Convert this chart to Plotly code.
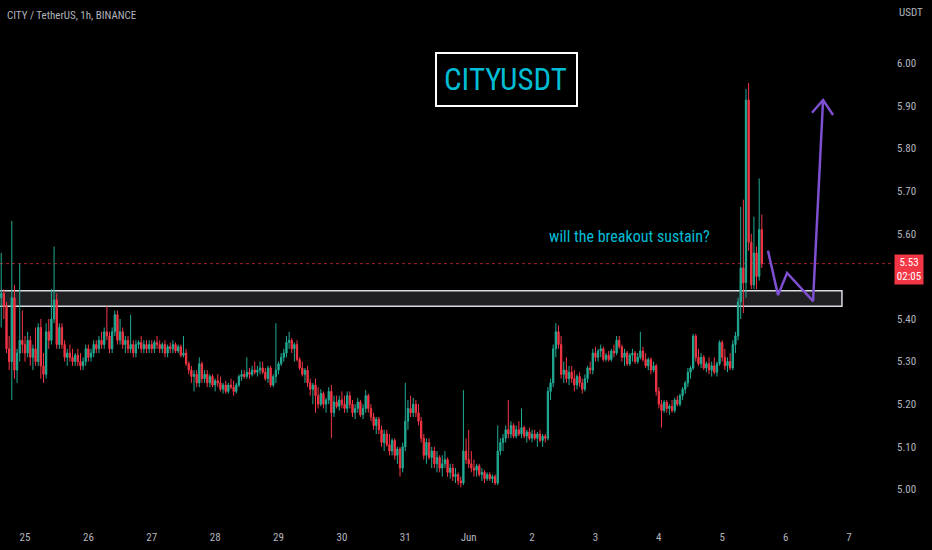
import pandas as pd
import plotly.graph_objects as go

# CITY/USDT 1h candles, May 24 15:00 -> Jun 5 15:00 (one line per day)
start = "2022-05-24 15:00"

open_ = [
    5.45, 5.46, 5.43, 5.33, 5.30, 5.45, 5.28, 5.32, 5.35,
    5.34, 5.32, 5.35, 5.31, 5.33, 5.30, 5.38, 5.29, 5.27, 5.37, 5.35, 5.40, 5.445, 5.34, 5.38, 5.34, 5.31, 5.32, 5.31, 5.30, 5.315, 5.30, 5.29, 5.30,
    5.33, 5.31, 5.32, 5.34, 5.33, 5.35, 5.34, 5.37, 5.36, 5.33, 5.37, 5.41, 5.35, 5.37, 5.34, 5.35, 5.33, 5.34, 5.32, 5.34, 5.345, 5.33, 5.34, 5.33,
    5.34, 5.33, 5.345, 5.34, 5.33, 5.34, 5.32, 5.335, 5.33, 5.34, 5.325, 5.335, 5.315, 5.32, 5.295, 5.28, 5.265, 5.27, 5.25, 5.295, 5.26, 5.27, 5.25, 5.265,
    5.245, 5.255, 5.25, 5.235, 5.245, 5.23, 5.245, 5.24, 5.23, 5.245, 5.265, 5.27, 5.265, 5.275, 5.27, 5.28, 5.275, 5.28, 5.285, 5.275, 5.26, 5.285, 5.245, 5.265,
    5.28, 5.295, 5.31, 5.32, 5.345, 5.35, 5.33, 5.34, 5.305, 5.285, 5.27, 5.28, 5.25, 5.235, 5.245, 5.22, 5.20, 5.225, 5.20, 5.21, 5.23, 5.18, 5.205, 5.195,
    5.21, 5.20, 5.19, 5.22, 5.20, 5.18, 5.19, 5.205, 5.175, 5.19, 5.22, 5.19, 5.17, 5.15, 5.165, 5.14, 5.11, 5.13, 5.105, 5.09, 5.115, 5.08, 5.095, 5.05,
    5.10, 5.16, 5.19, 5.18, 5.20, 5.18, 5.16, 5.12, 5.08, 5.11, 5.075, 5.09, 5.06, 5.075, 5.05, 5.06, 5.07, 5.04, 5.05, 5.03, 5.035, 5.02, 5.015, 5.09,
    5.07, 5.06, 5.05, 5.045, 5.055, 5.035, 5.04, 5.025, 5.035, 5.025, 5.03, 5.015, 5.09, 5.11, 5.12, 5.14, 5.13, 5.15, 5.125, 5.14, 5.13, 5.145, 5.125, 5.135,
    5.12, 5.13, 5.12, 5.13, 5.115, 5.125, 5.12, 5.23, 5.25, 5.33, 5.37, 5.34, 5.27, 5.28, 5.26, 5.275, 5.26, 5.245, 5.265, 5.25, 5.235, 5.26, 5.285, 5.28,
    5.32, 5.31, 5.325, 5.33, 5.305, 5.315, 5.305, 5.325, 5.32, 5.35, 5.335, 5.31, 5.32, 5.295, 5.315, 5.32, 5.30, 5.31, 5.325, 5.305, 5.29, 5.305, 5.28, 5.29,
    5.23, 5.20, 5.185, 5.205, 5.19, 5.195, 5.185, 5.21, 5.20, 5.22, 5.235, 5.25, 5.275, 5.285, 5.36, 5.31, 5.295, 5.31, 5.285, 5.295, 5.28, 5.29, 5.275, 5.295,
    5.345, 5.31, 5.29, 5.30, 5.285, 5.34, 5.36, 5.44, 5.52, 5.485, 5.914, 5.58, 5.48, 5.555, 5.50, 5.61,
]
high = [
    5.555, 5.47, 5.44, 5.36, 5.63, 5.48, 5.33, 5.53, 5.42,
    5.36, 5.37, 5.36, 5.34, 5.38, 5.39, 5.40, 5.32, 5.39, 5.40, 5.47, 5.57, 5.46, 5.39, 5.39, 5.35, 5.33, 5.34, 5.33, 5.32, 5.33, 5.32, 5.31, 5.34,
    5.34, 5.33, 5.35, 5.35, 5.36, 5.37, 5.38, 5.43, 5.37, 5.38, 5.42, 5.42, 5.40, 5.38, 5.36, 5.36, 5.41, 5.35, 5.35, 5.35, 5.36, 5.35, 5.35, 5.35,
    5.35, 5.35, 5.36, 5.35, 5.345, 5.35, 5.34, 5.345, 5.35, 5.345, 5.34, 5.34, 5.36, 5.33, 5.30, 5.29, 5.28, 5.28, 5.31, 5.30, 5.28, 5.28, 5.27, 5.27,
    5.26, 5.27, 5.265, 5.25, 5.255, 5.25, 5.26, 5.255, 5.25, 5.27, 5.28, 5.28, 5.31, 5.285, 5.29, 5.30, 5.29, 5.30, 5.30, 5.285, 5.29, 5.29, 5.27, 5.39,
    5.30, 5.32, 5.33, 5.36, 5.37, 5.355, 5.345, 5.35, 5.31, 5.30, 5.285, 5.29, 5.26, 5.25, 5.26, 5.24, 5.235, 5.23, 5.215, 5.24, 5.245, 5.22, 5.22, 5.22,
    5.23, 5.22, 5.23, 5.23, 5.21, 5.20, 5.215, 5.21, 5.20, 5.233, 5.225, 5.20, 5.18, 5.17, 5.17, 5.15, 5.14, 5.14, 5.13, 5.12, 5.12, 5.10, 5.10, 5.11,
    5.25, 5.21, 5.22, 5.215, 5.21, 5.20, 5.17, 5.13, 5.12, 5.12, 5.10, 5.10, 5.09, 5.08, 5.08, 5.09, 5.075, 5.06, 5.06, 5.05, 5.04, 5.03, 5.233, 5.12,
    5.14, 5.09, 5.07, 5.06, 5.06, 5.05, 5.045, 5.04, 5.04, 5.035, 5.035, 5.15, 5.12, 5.13, 5.15, 5.21, 5.16, 5.155, 5.15, 5.16, 5.19, 5.15, 5.14, 5.145,
    5.14, 5.14, 5.135, 5.14, 5.13, 5.13, 5.24, 5.26, 5.34, 5.39, 5.385, 5.36, 5.30, 5.31, 5.29, 5.29, 5.28, 5.27, 5.275, 5.26, 5.27, 5.29, 5.30, 5.33,
    5.335, 5.33, 5.34, 5.335, 5.32, 5.325, 5.33, 5.34, 5.36, 5.36, 5.34, 5.33, 5.325, 5.32, 5.33, 5.325, 5.32, 5.37, 5.335, 5.32, 5.31, 5.31, 5.30, 5.295,
    5.24, 5.21, 5.21, 5.21, 5.20, 5.21, 5.215, 5.22, 5.225, 5.24, 5.255, 5.285, 5.29, 5.365, 5.365, 5.33, 5.32, 5.315, 5.30, 5.31, 5.30, 5.31, 5.30, 5.35,
    5.35, 5.33, 5.31, 5.32, 5.35, 5.37, 5.45, 5.663, 5.68, 5.94, 5.954, 5.60, 5.64, 5.57, 5.73, 5.645,
]
low = [
    5.38, 5.40, 5.32, 5.28, 5.21, 5.26, 5.25, 5.30, 5.32,
    5.30, 5.31, 5.29, 5.28, 5.29, 5.29, 5.26, 5.25, 5.26, 5.33, 5.34, 5.39, 5.33, 5.33, 5.33, 5.30, 5.29, 5.30, 5.29, 5.29, 5.29, 5.28, 5.28, 5.29,
    5.30, 5.30, 5.31, 5.32, 5.32, 5.33, 5.33, 5.35, 5.32, 5.32, 5.36, 5.34, 5.34, 5.33, 5.32, 5.32, 5.32, 5.31, 5.31, 5.33, 5.32, 5.32, 5.32, 5.32,
    5.32, 5.32, 5.33, 5.32, 5.32, 5.31, 5.31, 5.32, 5.32, 5.32, 5.32, 5.31, 5.31, 5.29, 5.27, 5.25, 5.23, 5.24, 5.24, 5.25, 5.25, 5.24, 5.24, 5.24,
    5.23, 5.24, 5.23, 5.225, 5.225, 5.225, 5.235, 5.22, 5.225, 5.24, 5.255, 5.26, 5.26, 5.26, 5.265, 5.27, 5.265, 5.27, 5.27, 5.255, 5.25, 5.24, 5.24, 5.25,
    5.27, 5.29, 5.30, 5.31, 5.33, 5.32, 5.30, 5.30, 5.28, 5.265, 5.25, 5.24, 5.22, 5.20, 5.18, 5.19, 5.195, 5.19, 5.18, 5.20, 5.12, 5.17, 5.19, 5.185,
    5.19, 5.18, 5.18, 5.19, 5.17, 5.165, 5.18, 5.17, 5.165, 5.18, 5.18, 5.16, 5.14, 5.13, 5.13, 5.10, 5.09, 5.10, 5.08, 5.08, 5.07, 5.06, 5.03, 5.04,
    5.09, 5.14, 5.17, 5.17, 5.17, 5.15, 5.11, 5.07, 5.06, 5.07, 5.05, 5.05, 5.04, 5.04, 5.03, 5.05, 5.03, 5.025, 5.02, 5.015, 5.01, 5.005, 5.01, 5.06,
    5.05, 5.04, 5.03, 5.03, 5.03, 5.02, 5.015, 5.02, 5.02, 5.015, 5.01, 5.01, 5.08, 5.09, 5.11, 5.12, 5.12, 5.12, 5.12, 5.125, 5.12, 5.12, 5.11, 5.115,
    5.11, 5.115, 5.10, 5.11, 5.10, 5.11, 5.115, 5.21, 5.24, 5.31, 5.33, 5.26, 5.25, 5.25, 5.245, 5.25, 5.23, 5.235, 5.24, 5.225, 5.23, 5.25, 5.27, 5.27,
    5.30, 5.30, 5.31, 5.30, 5.30, 5.30, 5.30, 5.31, 5.315, 5.33, 5.30, 5.29, 5.29, 5.29, 5.30, 5.295, 5.295, 5.305, 5.30, 5.285, 5.28, 5.27, 5.275, 5.22,
    5.19, 5.145, 5.18, 5.18, 5.175, 5.18, 5.18, 5.195, 5.195, 5.21, 5.225, 5.24, 5.26, 5.28, 5.30, 5.29, 5.285, 5.28, 5.275, 5.27, 5.265, 5.27, 5.265, 5.29,
    5.30, 5.28, 5.275, 5.28, 5.28, 5.32, 5.35, 5.40, 5.414, 5.45, 5.56, 5.47, 5.47, 5.47, 5.49, 5.52,
]
close_ = [
    5.46, 5.43, 5.33, 5.30, 5.45, 5.28, 5.32, 5.35, 5.34,
    5.32, 5.35, 5.31, 5.33, 5.30, 5.38, 5.29, 5.27, 5.37, 5.35, 5.40, 5.445, 5.34, 5.38, 5.34, 5.31, 5.32, 5.31, 5.30, 5.315, 5.30, 5.29, 5.30, 5.33,
    5.31, 5.32, 5.34, 5.33, 5.35, 5.34, 5.37, 5.36, 5.33, 5.37, 5.41, 5.35, 5.37, 5.34, 5.35, 5.33, 5.34, 5.32, 5.34, 5.345, 5.33, 5.34, 5.33, 5.34,
    5.33, 5.345, 5.34, 5.33, 5.34, 5.32, 5.335, 5.33, 5.34, 5.325, 5.335, 5.315, 5.32, 5.295, 5.28, 5.265, 5.27, 5.25, 5.295, 5.26, 5.27, 5.25, 5.265, 5.245,
    5.255, 5.25, 5.235, 5.245, 5.23, 5.245, 5.24, 5.23, 5.245, 5.265, 5.27, 5.265, 5.275, 5.27, 5.28, 5.275, 5.28, 5.285, 5.275, 5.26, 5.285, 5.245, 5.265, 5.28,
    5.295, 5.31, 5.32, 5.345, 5.35, 5.33, 5.34, 5.305, 5.285, 5.27, 5.28, 5.25, 5.235, 5.245, 5.22, 5.20, 5.225, 5.20, 5.21, 5.23, 5.18, 5.205, 5.195, 5.21,
    5.20, 5.19, 5.22, 5.20, 5.18, 5.19, 5.205, 5.175, 5.19, 5.22, 5.19, 5.17, 5.15, 5.165, 5.14, 5.11, 5.13, 5.105, 5.09, 5.115, 5.08, 5.095, 5.05, 5.10,
    5.16, 5.19, 5.18, 5.20, 5.18, 5.16, 5.12, 5.08, 5.11, 5.075, 5.09, 5.06, 5.075, 5.05, 5.06, 5.07, 5.04, 5.05, 5.03, 5.035, 5.02, 5.015, 5.09, 5.07,
    5.06, 5.05, 5.045, 5.055, 5.035, 5.04, 5.025, 5.035, 5.025, 5.03, 5.015, 5.09, 5.11, 5.12, 5.14, 5.13, 5.15, 5.125, 5.14, 5.13, 5.145, 5.125, 5.135, 5.12,
    5.13, 5.12, 5.13, 5.115, 5.125, 5.12, 5.23, 5.25, 5.33, 5.37, 5.34, 5.27, 5.28, 5.26, 5.275, 5.26, 5.245, 5.265, 5.25, 5.235, 5.26, 5.285, 5.28, 5.32,
    5.31, 5.325, 5.33, 5.305, 5.315, 5.305, 5.325, 5.32, 5.35, 5.335, 5.31, 5.32, 5.295, 5.315, 5.32, 5.30, 5.31, 5.325, 5.305, 5.29, 5.305, 5.28, 5.29, 5.23,
    5.20, 5.185, 5.205, 5.19, 5.195, 5.185, 5.21, 5.20, 5.22, 5.235, 5.25, 5.275, 5.285, 5.36, 5.31, 5.295, 5.31, 5.285, 5.295, 5.28, 5.29, 5.275, 5.295, 5.345,
    5.31, 5.29, 5.30, 5.285, 5.34, 5.36, 5.44, 5.52, 5.485, 5.914, 5.58, 5.48, 5.555, 5.50, 5.61, 5.53,
]

# axis ticks (5.50 sits under the last-price label, so it is not drawn)
day_ticks = pd.date_range("2022-05-25", "2022-06-07", freq="D")
day_labels = ["25", "26", "27", "28", "29", "30", "31", "Jun", "2", "3", "4", "5", "6", "7"]
price_ticks = [5.00, 5.10, 5.20, 5.30, 5.40, 5.60, 5.70, 5.80, 5.90, 6.00]

# drawings on the chart
zone_low, zone_high = 5.43, 5.466
zone_end = "2022-06-06 21:20"
last_price = 5.53
path_t = ["2022-06-05 17:20", "2022-06-05 21:08", "2022-06-06 00:33", "2022-06-06 10:23", "2022-06-06 14:11"]
path_p = [5.56, 5.456, 5.508, 5.442, 5.914]
head_t = ["2022-06-06 10:00", "2022-06-06 14:11", "2022-06-06 17:58"]
head_p = [5.884, 5.914, 5.879]

times = pd.date_range(start, periods=len(close_), freq="h")

UP = "#22ab94"
DOWN = "#f23645"
GREY = "#b2b5be"
CYAN = "#00bcd4"
PURPLE = "#7e4fd0"
FONT = "Liberation Sans Narrow, Roboto Condensed, Arial Narrow, Liberation Sans, sans-serif"
PW = 896  # plot width in px, used to place overlay texts

fig = go.Figure()
fig.add_trace(go.Candlestick(
    x=times, open=open_, high=high, low=low, close=close_,
    increasing=dict(line=dict(color=UP, width=1), fillcolor=UP),
    decreasing=dict(line=dict(color=DOWN, width=1), fillcolor=DOWN),
    showlegend=False, hoverinfo="skip",
))
fig.add_trace(go.Scatter(x=path_t, y=path_p, mode="lines",
                         line=dict(color=PURPLE, width=2.5), showlegend=False, hoverinfo="skip"))
fig.add_trace(go.Scatter(x=head_t, y=head_p, mode="lines",
                         line=dict(color=PURPLE, width=2.5), showlegend=False, hoverinfo="skip"))

# support zone
fig.add_shape(type="rect", xref="x", yref="y", x0="2022-05-24 10:00", x1=zone_end,
              y0=zone_low, y1=zone_high, fillcolor="#202023",
              line=dict(color="#d8dbe2", width=1.5), layer="below")
# last price line
fig.add_shape(type="line", xref="paper", yref="y", x0=0, x1=893 / PW, y0=last_price, y1=last_price,
              line=dict(color="#a3202c", width=1, dash="dot"), layer="below")
# title box
fig.add_shape(type="rect", xref="paper", yref="paper", x0=436 / PW, x1=577 / PW, y0=0.798, y1=0.899,
              fillcolor="#000000", line=dict(color="#ffffff", width=2))

fig.add_annotation(x=442 / PW, y=0.8486, xref="paper", yref="paper", xanchor="left", yanchor="middle",
                   text="CITYUSDT", showarrow=False, font=dict(family=FONT, size=31, color=CYAN))
fig.add_annotation(x="2022-06-03 12:43", y=5.5925, xanchor="center", yanchor="middle",
                   text="will the breakout sustain?", showarrow=False,
                   font=dict(family=FONT, size=16, color=CYAN))
fig.add_annotation(x=0.006, y=1 - 15 / 525, xref="paper", yref="paper", xanchor="left", yanchor="middle",
                   showarrow=False, text="CITY / TetherUS, 1h, BINANCE",
                   font=dict(family=FONT, size=11, color=GREY))
fig.add_annotation(x=911 / PW, y=1 - 12 / 525, xref="paper", yref="paper", xanchor="center",
                   yanchor="middle", showarrow=False, text="USDT",
                   font=dict(family=FONT, size=11, color=GREY))
fig.add_annotation(x=909 / PW, y=last_price, xref="paper", yref="y", xanchor="center",
                   yanchor="middle", yshift=-6, showarrow=False,
                   text="5.53<br>02:05", bgcolor=DOWN, width=26, height=27, align="center",
                   font=dict(family=FONT, size=11, color="#ffffff"))

fig.update_layout(
    width=932, height=550,
    margin=dict(l=0, r=932 - PW, t=0, b=25),
    paper_bgcolor="#000000", plot_bgcolor="#000000",
    font=dict(family=FONT, size=12, color=GREY),
    xaxis=dict(range=["2022-05-24 14:32", "2022-06-07 17:48"], rangeslider=dict(visible=False),
               tickvals=day_ticks, ticktext=day_labels, showgrid=False, zeroline=False,
               showline=False, ticks="", ticklabelstandoff=4, tickfont=dict(size=11, color=GREY)),
    yaxis=dict(range=[4.9164, 6.1488], side="right", tickvals=price_ticks, tickformat=".2f",
               showgrid=False, zeroline=False, showline=False, ticks="",
               tickfont=dict(size=11, color=GREY)),
)

fig.write_html("out.html", config={"displayModeBar": False},
               post_script="document.body.style.margin='0';document.body.style.overflow='hidden';")
